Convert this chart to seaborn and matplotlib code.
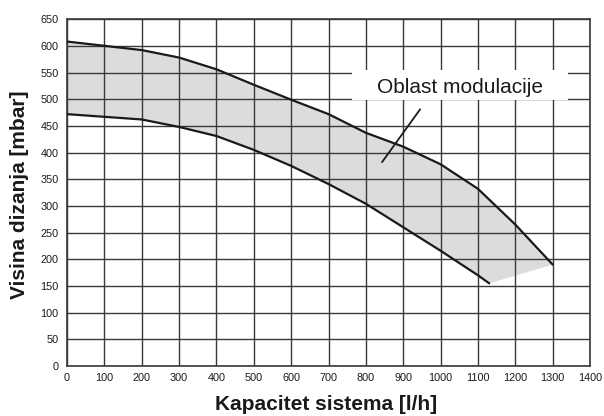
import matplotlib
matplotlib.use("Agg")
import matplotlib.pyplot as plt
import seaborn as sns
import numpy as np
import pandas as pd

# Pump head curves: maximum and minimum speed
flow_max = [0, 100, 200, 300, 400, 500, 600, 700, 800, 900, 1000, 1100, 1200, 1300]
head_max = [608, 600, 592, 578, 556, 527, 499, 472, 437, 411, 378, 332, 265, 190]

flow_min = [0, 100, 200, 300, 400, 500, 600, 700, 800, 900, 1000, 1100, 1130]
head_min = [472, 467, 462, 448, 431, 405, 375, 341, 304, 260, 216, 170, 155]

x_ticks = list(range(0, 1401, 100))
y_ticks = list(range(0, 651, 50))

label_text = "Oblast modulacije"
x_label = "Kapacitet sistema [l/h]"
y_label = "Visina dizanja [mbar]"

sns.set_theme(style="white")
plt.rcParams["font.family"] = ["Liberation Sans", "DejaVu Sans"]

fig = plt.figure(figsize=(6.04, 4.16), dpi=100)
ax = fig.add_axes([0.111, 0.120, 0.866, 0.834])

# Shaded modulation region: upper curve forward, lower curve back
poly_x = flow_max + flow_min[::-1]
poly_y = head_max + head_min[::-1]
ax.fill(poly_x, poly_y, color="#dcdcdd", lw=0, zorder=1)

df_max = pd.DataFrame({"flow": flow_max, "head": head_max})
df_min = pd.DataFrame({"flow": flow_min, "head": head_min})
sns.lineplot(data=df_max, x="flow", y="head", ax=ax, color="#1a1a1a", lw=1.6, zorder=4)
sns.lineplot(data=df_min, x="flow", y="head", ax=ax, color="#1a1a1a", lw=1.6, zorder=4)

ax.set_xlim(0, 1400)
ax.set_ylim(0, 650)
ax.set_xticks(x_ticks)
ax.set_yticks(y_ticks)
# grid drawn over the shaded region, under the curves
ax.set_axisbelow(False)
ax.grid(True, color="#3a3a3a", lw=1.0)
ax.tick_params(axis="both", length=0, labelsize=7.8, colors="#1a1a1a")
ax.tick_params(axis="y", pad=6)
ax.tick_params(axis="x", pad=5)
for sp in ax.spines.values():
    sp.set_color("#3a3a3a")
    sp.set_linewidth(1.2)

ax.set_xlabel("")
ax.set_ylabel("")
fig.text(326 / 604, 1 - 405 / 416, x_label, fontsize=15, fontweight="bold",
         ha="center", va="center", color="#1a1a1a")
fig.text(20 / 604, 1 - 195 / 416, y_label, fontsize=15, fontweight="bold",
         rotation=90, ha="center", va="center", color="#1a1a1a")

# Label box with leader line into the region
ax.fill([763, 1341, 1341, 763], [555, 555, 498, 498], color="white", lw=0, zorder=5)
ax.text(1052, 521, label_text, fontsize=15, ha="center", va="center", color="#1a1a1a", zorder=6)
ax.plot([945, 843], [481, 382], color="#1a1a1a", lw=1.3, zorder=6)

fig.savefig("out.png", dpi=100)
